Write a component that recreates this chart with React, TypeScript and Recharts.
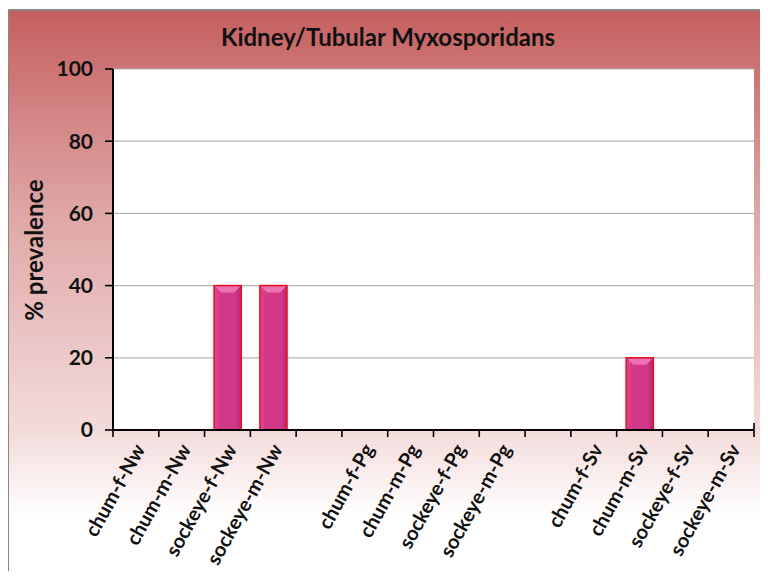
import React from "react";
import { BarChart, Bar, XAxis, YAxis, CartesianGrid } from "recharts";

const categories = [
  "chum-f-Nw", "chum-m-Nw", "sockeye-f-Nw", "sockeye-m-Nw", "",
  "chum-f-Pg", "chum-m-Pg", "sockeye-f-Pg", "sockeye-m-Pg", "",
  "chum-f-Sv", "chum-m-Sv", "sockeye-f-Sv", "sockeye-m-Sv",
];
const prevalence: (number | null)[] = [0, 0, 40, 40, null, 0, 0, 0, 0, null, 0, 20, 0, 0];
const yTicks = [0, 20, 40, 60, 80, 100];
const title = "Kidney/Tubular Myxosporidans";
const yLabel = "% prevalence";

const data = categories.map((c, i) => ({ cat: c, v: prevalence[i] }));

const FONT = "Lato, 'Open Sans', sans-serif";

const BarShape = (props: any) => {
  const { x, y, width, height } = props;
  if (!height || height <= 0) return null;
  const bev = Math.min(7, width / 3);
  return (
    <g>
      <rect x={x - 2} y={y + 1} width={width + 4} height={height} fill="#000" opacity={0.06} />
      <rect x={x} y={y} width={width} height={height} fill="url(#barGrad)" stroke="#E3141F" strokeWidth={1.6} />
      <polygon
        points={`${x + 1},${y + 1} ${x + width - 1},${y + 1} ${x + width - bev},${y + bev} ${x + bev},${y + bev}`}
        fill="#EC73B0"
      />
    </g>
  );
};

const XTick = (props: any) => {
  const { x, y, payload, index } = props;
  const off = payload && payload.offset ? payload.offset : 0;
  const isLast = index === categories.length - 1;
  const tx = x + 3;
  const ty = y + 15;
  return (
    <g>
      <line x1={x - off} x2={x - off} y1={y} y2={y + 7} stroke="#000" strokeWidth={1.6} />
      {isLast && <line x1={x + off} x2={x + off} y1={y - 7} y2={y + 7} stroke="#000" strokeWidth={1.6} />}
      {payload.value ? (
        <text
          x={tx}
          y={ty}
          textAnchor="end"
          dominantBaseline="central"
          transform={`rotate(-61, ${tx}, ${ty})`}
          fontFamily={FONT}
          fontWeight={700}
          fontSize={20}
          fill="#111"
        >
          {payload.value}
        </text>
      ) : null}
    </g>
  );
};

export default function App() {
  return (
    <div style={{ position: "relative", margin: -8, width: 768, height: 579, overflow: "hidden", background: "#fff" }}>
      <div
        style={{
          position: "absolute",
          left: 7,
          top: 9,
          width: 780,
          height: 600,
          borderLeft: "2px solid #888",
          borderTop: "2px solid #888",
          background: "linear-gradient(to bottom, #C55F5F 0px, #DFA6A6 200px, #F3DBDB 420px, #FFFFFF 505px)",
        }}
      />
      <div
        style={{
          position: "absolute",
          left: 0,
          width: 768,
          top: 22,
          textAlign: "center",
          fontFamily: FONT,
          fontWeight: 700,
          fontSize: 24,
          color: "#111",
          paddingLeft: 4,
        }}
      >
        {title}
      </div>
      <div
        style={{
          position: "absolute",
          left: 33,
          top: 250,
          transform: "translate(-50%, -50%) rotate(-90deg)",
          whiteSpace: "nowrap",
          fontFamily: FONT,
          fontWeight: 700,
          fontSize: 24,
          color: "#111",
        }}
      >
        {yLabel}
      </div>
      <div style={{ position: "absolute", left: 0, top: 0 }}>
        <BarChart width={768} height={579} data={data} margin={{ top: 69, right: 14, left: 53, bottom: 9 }} barCategoryGap="21%">
          <defs>
            <linearGradient id="barGrad" x1="0" y1="0" x2="1" y2="0">
              <stop offset="0%" stopColor="#DA4B97" />
              <stop offset="20%" stopColor="#D23A89" />
              <stop offset="80%" stopColor="#CF3787" />
              <stop offset="100%" stopColor="#B82673" />
            </linearGradient>
          </defs>
          <CartesianGrid vertical={false} stroke="#B3B3B3" strokeWidth={1.2} fill="#FFFFFF" />
          <XAxis
            dataKey="cat"
            height={140}
            interval={0}
            tickLine={false}
            tickSize={0}
            tickMargin={0}
            axisLine={{ stroke: "#000", strokeWidth: 2 }}
            tick={<XTick />}
          />
          <YAxis
            width={60}
            domain={[0, 100]}
            ticks={yTicks}
            interval={0}
            tickSize={8}
            tickMargin={12}
            axisLine={{ stroke: "#000", strokeWidth: 2 }}
            tickLine={{ stroke: "#000", strokeWidth: 1.6 }}
            tick={{ fontFamily: FONT, fontWeight: 700, fontSize: 21, fill: "#111" }}
          />
          <Bar dataKey="v" isAnimationActive={false} shape={<BarShape />} />
        </BarChart>
      </div>
    </div>
  );
}
